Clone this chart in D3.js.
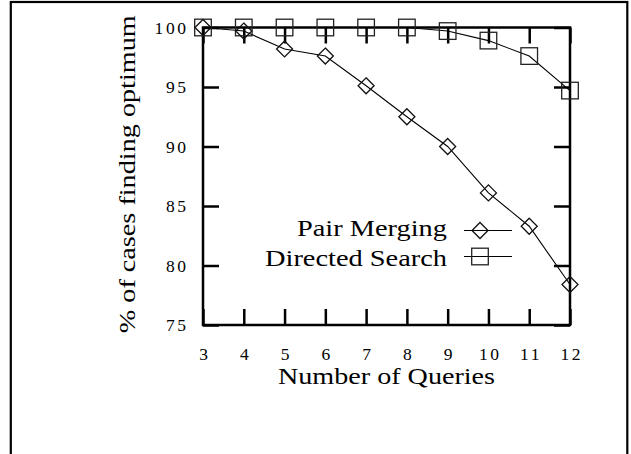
<!DOCTYPE html>
<html>
<head>
<meta charset="utf-8">
<script src="https://cdn.jsdelivr.net/npm/d3@7"></script>
<style>
  html, body { margin: 0; padding: 0; background: #fff; }
  svg { display: block; }
</style>
</head>
<body>
<svg id="chart" width="631" height="454"></svg>
<script>
const queries = [3, 4, 5, 6, 7, 8, 9, 10, 11, 12];
const pairMerging = [100, 99.7, 98.2, 97.6, 95.1, 92.5, 90.0, 86.1, 83.3, 78.4];
const directedSearch = [100, 100, 100, 100, 100, 100, 99.7, 98.9, 97.6, 94.7];
const yTicks = [75, 80, 85, 90, 95, 100];
const seriesNames = ["Pair Merging", "Directed Search"];
const xTitle = "Number of Queries";
const yTitle = "% of cases finding optimum";

const svg = d3.select("#chart");
const FONT = "'Liberation Serif', 'DejaVu Serif', serif";
const LS = 2.6; // tick label letter spacing

// outer frame
svg.append("rect").attr("x", 10.8).attr("y", 2).attr("width", 616.5).attr("height", 520)
  .attr("fill", "none").attr("stroke", "#000").attr("stroke-width", 2.2);

const x = d3.scaleLinear().domain([3, 12]).range([203, 570]);
const y = d3.scaleLinear().domain([75, 100]).range([325, 27.5]);

const TL = 16;
function styleAxis(g) {
  g.select(".domain").remove();
  g.selectAll(".tick line").attr("stroke", "#000").attr("stroke-width", 2.5);
  g.selectAll(".tick text").attr("font-family", FONT).attr("font-size", 17.5)
    .attr("letter-spacing", LS).attr("fill", "#000");
}

svg.append("g").attr("transform", `translate(0,${y(75)})`)
  .call(d3.axisBottom(x).tickValues(queries).tickSizeInner(-TL).tickSizeOuter(0).tickPadding(23).tickFormat(d3.format("d")))
  .call(styleAxis)
  .call(g => g.selectAll(".tick text").attr("dx", LS / 2));
svg.append("g").attr("transform", `translate(0,${y(100)})`)
  .call(d3.axisTop(x).tickValues(queries).tickSizeInner(-TL).tickSizeOuter(0).tickFormat(""))
  .call(styleAxis);
svg.append("g").attr("transform", `translate(${x(3)},0)`)
  .call(d3.axisLeft(y).tickValues(yTicks).tickSizeInner(-TL).tickSizeOuter(0).tickPadding(17).tickFormat(d3.format("d")))
  .call(styleAxis)
  .call(g => g.selectAll(".tick text").attr("dx", LS));
svg.append("g").attr("transform", `translate(${x(12)},0)`)
  .call(d3.axisRight(y).tickValues(yTicks).tickSizeInner(-TL).tickSizeOuter(0).tickFormat(""))
  .call(styleAxis);

// plot frame
svg.append("rect").attr("x", x(3)).attr("y", y(100))
  .attr("width", x(12) - x(3)).attr("height", y(75) - y(100))
  .attr("fill", "none").attr("stroke", "#000").attr("stroke-width", 2.5);

// axis titles
svg.append("text").attr("x", (x(3) + x(12)) / 2).attr("y", 384)
  .attr("text-anchor", "middle").attr("font-family", FONT).attr("font-size", 24)
  .attr("textLength", 217).attr("lengthAdjust", "spacingAndGlyphs").text(xTitle);
svg.append("text").attr("transform", `translate(135,${(y(75) + y(100)) / 2 - 2}) rotate(-90)`)
  .attr("text-anchor", "middle").attr("font-family", FONT).attr("font-size", 24)
  .attr("textLength", 318).attr("lengthAdjust", "spacingAndGlyphs").text(yTitle);

// series
const line = d3.line().x(d => x(d[0])).y(d => y(d[1]));
const pmData = queries.map((q, i) => [q, pairMerging[i]]);
const dsData = queries.map((q, i) => [q, directedSearch[i]]);

function drawDiamond(g, cx, cy) {
  const r = 8;
  g.append("path").attr("d", `M${cx},${cy - r}L${cx + r},${cy}L${cx},${cy + r}L${cx - r},${cy}Z`)
    .attr("fill", "none").attr("stroke", "#111").attr("stroke-width", 1.3);
}
function drawSquare(g, cx, cy) {
  const r = 8.3;
  g.append("rect").attr("x", cx - r).attr("y", cy - r).attr("width", 2 * r).attr("height", 2 * r)
    .attr("fill", "none").attr("stroke", "#222").attr("stroke-width", 1.3);
}

const gs = svg.append("g");
gs.append("path").attr("d", line(dsData)).attr("fill", "none").attr("stroke", "#000").attr("stroke-width", 1.1);
gs.append("path").attr("d", line(pmData)).attr("fill", "none").attr("stroke", "#000").attr("stroke-width", 1.1);
dsData.forEach(d => drawSquare(gs, x(d[0]), y(d[1])));
pmData.forEach(d => drawDiamond(gs, x(d[0]), y(d[1])));

// legend
const legend = svg.append("g");
const legendRows = [
  { name: seriesNames[0], ty: 236, ly: 230.5, mark: drawDiamond, w: 150 },
  { name: seriesNames[1], ty: 266, ly: 256.5, mark: drawSquare, w: 182 }
];
legendRows.forEach(r => {
  legend.append("text").attr("x", 447).attr("y", r.ty).attr("text-anchor", "end")
    .attr("font-family", FONT).attr("font-size", 24)
    .attr("textLength", r.w).attr("lengthAdjust", "spacingAndGlyphs").text(r.name);
  legend.append("line").attr("x1", 464).attr("x2", 512).attr("y1", r.ly).attr("y2", r.ly)
    .attr("stroke", "#000").attr("stroke-width", 1.1);
  r.mark(legend, 480, r.ly);
});
</script>
</body>
</html>
